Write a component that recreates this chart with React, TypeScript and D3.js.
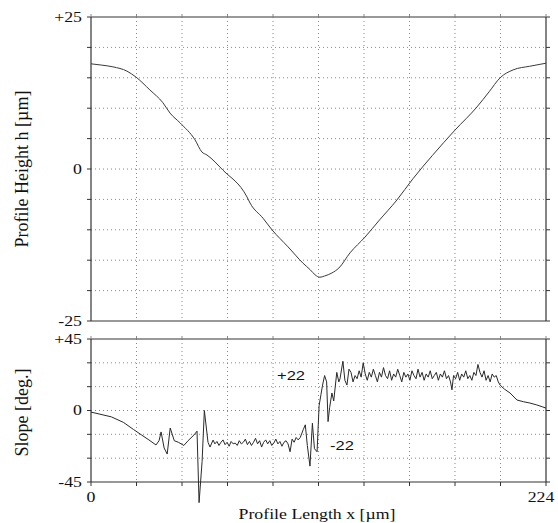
import React from "react";
import * as d3 from "d3";

// Profile height (top panel): [x µm, h µm]
const heightX = [0, 5, 10.8, 17.7, 22.2, 29, 35.4, 38.9, 43.8, 51.2, 54.6, 57.1, 65, 76.8, 78.3, 84.7, 89.1, 97, 104.4, 108, 110.3, 112.7, 115, 118.6, 122, 127.5, 134.9, 142, 150.6, 158.5, 168, 179.2, 190, 196, 201.4, 207.8, 216, 224];
const heightH = [17.3, 17.1, 16.8, 16.1, 15.1, 13.0, 10.9, 9.2, 7.6, 4.8, 2.8, 2.3, -0.2, -4.6, -5.6, -8.1, -10.0, -12.8, -15.5, -16.6, -17.4, -17.8, -17.6, -17.1, -16.3, -13.8, -11.2, -8.4, -5.1, -1.6, 2.2, 6.4, 10.2, 12.7, 15.0, 16.3, 16.9, 17.4];

// Slope (bottom panel): [x µm, deg]
const slopeX = [
  0, 10, 16, 21, 25, 28.5, 32, 33.5, 34.5, 36, 37.5, 39, 41, 43, 45.7, 47.8, 50.7, 52.2, 53.2, 54.7, 55.8, 57.6, 58.6, 60.1,
  61, 62, 63, 64, 65, 66, 67, 68, 69, 70, 71, 72, 73, 74, 75, 76, 77, 78, 79, 80, 81, 82, 83, 84, 85, 86, 87, 88, 89, 90,
  91, 92, 93, 94, 95, 96, 97, 98, 99, 100, 101, 102, 103,
  104.5, 105.5, 106.5, 107.8, 109, 110, 111.3, 112.3, 113.2, 114, 115, 116, 116.7, 117.5, 118.6, 119.5, 121, 122, 122.6, 124, 125, 126, 127, 128, 129, 130, 131,
  132, 133, 134, 135, 136, 137, 138, 139, 140, 141, 142, 143, 144, 145, 146, 147, 148, 149, 150, 151, 152, 153, 154, 155, 156, 157, 158, 159, 160,
  161, 162, 163, 164, 165, 166, 167, 168, 169, 170, 171, 172, 173, 174, 175, 176, 177, 177.7, 178.5, 179.5, 180.5, 181.5, 182.5, 183.5, 184.5, 185.5,
  186.5, 187.5, 188.5, 189.5, 190.5, 191.5, 192.5, 193.5, 194.5, 195.5, 196.5, 197.5, 198.5, 199.5, 200.5,
  201.4, 203.5, 206.3, 209.7, 213, 216.1, 219.5, 222.5, 224
];
const slopeDeg = [
  -1, -4, -7.5, -12, -15.5, -18.5, -21.7, -19, -13.5, -23.6, -27.4, -11, -19, -20, -22, -19, -15.4, -13, -58, -32, 0, -20, -23, -18.6,
  -21, -19.5, -22, -20, -18.5, -21.5, -20, -22.5, -19.5, -21, -20.5, -22, -19, -21, -20, -18, -21.5, -19.5, -22, -20, -17.5, -21, -19, -23, -20, -18.5, -21, -19, -22, -20.5,
  -18, -21, -19.5, -22.5, -20, -19, -21, -26, -18, -20, -17, -18.5, -17,
  -12, -9, -22, -35, -8, -24, -26, 3, 10, 16, 22, 18, -7, 2, 11, 6, 24, 18, 20, 31, 19, 16, 26, 24, 18, 22, 20,
  25, 21, 30, 23, 19, 24, 21, 26, 22, 18, 24, 21, 27, 22, 20, 25, 19, 23, 21, 26, 22, 18, 24, 21, 23, 19, 25, 22, 20,
  26, 21, 24, 19, 23, 21, 25, 20, 22, 24, 19, 23, 21, 25, 20, 22, 18, 13, 22, 20, 24, 19, 23, 21, 25, 20,
  22, 19, 24, 22, 29, 24, 21, 25, 19, 22, 18, 23, 21, 22, 18,
  16, 13.5, 11, 6.6, 5.5, 4.7, 3.5, 2.2, 1.5
];

const xTickLabels = ["0", "224"];
const topTickLabels = ["+25", "0", "-25"];
const topTickValues = [25, 0, -25];
const botTickLabels = ["+45", "0", "-45"];
const botTickValues = [45, 0, -45];
const xTitle = "Profile Length x [\u00b5m]";
const yTitleTop = "Profile Height h [\u00b5m]";
const yTitleBot = "Slope [deg.]";

const serif = "'Liberation Serif', 'Times New Roman', serif";
const sans = "'Liberation Sans', Arial, sans-serif";
const SX = 1.27;

export default function App() {
  const L = 91, R = 546;
  const x = d3.scaleLinear().domain([0, 224]).range([L, R]);
  const yT = d3.scaleLinear().domain([-25, 25]).range([321, 17]);
  const yB = d3.scaleLinear().domain([-45, 45]).range([482, 339]);

  const xGrid = d3.range(0, 11).map((i) => i * 22.4);
  const yTGrid = d3.range(-25, 26, 5);
  const yBGrid = d3.range(-45, 46, 15);

  const topLine = d3.line<number>().x((_, i) => x(heightX[i])).y((d) => yT(d)).curve(d3.curveMonotoneX)(heightH) || "";
  const botLine = d3.line<number>().x((_, i) => x(slopeX[i])).y((d) => yB(d))(slopeDeg) || "";

  const grid = "#8a8a8a";
  const ax = "#333";

  const stretched = (key: string, tx: number, ty: number, s: string, anchor: string, font: string, size: number) => (
    <text key={key} transform={`translate(${tx},${ty}) scale(${SX},1)`} textAnchor={anchor} fontFamily={font} fontSize={size} fill="#111">{s}</text>
  );

  const panel = (y: d3.ScaleLinear<number, number>, yGrid: number[], top: number, bot: number, isBottom: boolean) => (
    <g>
      {xGrid.slice(1, -1).map((v) => (
        <line key={"gx" + v} x1={x(v)} x2={x(v)} y1={top} y2={bot} stroke={grid} strokeWidth={1} strokeDasharray="1,3" />
      ))}
      {yGrid.slice(1, -1).map((v) => (
        <line key={"gy" + v} x1={L} x2={R} y1={y(v)} y2={y(v)} stroke={grid} strokeWidth={1} strokeDasharray="1,3" />
      ))}
      {yGrid.map((v) => (
        <g key={"t" + v}>
          <line x1={L - 4} x2={L} y1={y(v)} y2={y(v)} stroke={ax} />
          <line x1={R} x2={R + 4} y1={y(v)} y2={y(v)} stroke={ax} />
        </g>
      ))}
      {xGrid.map((v) => (
        <g key={"xt" + v}>
          <line x1={x(v)} x2={x(v)} y1={top - 3} y2={top} stroke={grid} />
          {isBottom ? <line x1={x(v)} x2={x(v)} y1={bot} y2={bot + 4} stroke={ax} /> : null}
        </g>
      ))}
      <line x1={L} x2={R} y1={top} y2={top} stroke="#777" strokeWidth={1.5} />
      <line x1={L} x2={R} y1={bot} y2={bot} stroke={isBottom ? ax : "#777"} strokeWidth={isBottom ? 1.2 : 1.5} />
      <line x1={L} x2={L} y1={top} y2={bot} stroke={ax} strokeWidth={1.2} />
      <line x1={R} x2={R} y1={top} y2={bot} stroke={ax} strokeWidth={1.2} />
    </g>
  );

  return (
    <svg width={558} height={523} style={{ position: "absolute", left: 0, top: 0, background: "#fff" }}>
      <rect width={558} height={523} fill="#fff" />
      {panel(yT, yTGrid, 17, 321, false)}
      {panel(yB, yBGrid, 339, 482, true)}

      <path d={topLine} fill="none" stroke="#3a3a3a" strokeWidth={1} />
      <path d={botLine} fill="none" stroke="#2a2a2a" strokeWidth={1} strokeLinejoin="round" />

      {topTickValues.map((v, i) => stretched("tl" + i, 82, yT(v) + 4.5, topTickLabels[i], "end", serif, 14))}
      {botTickValues.map((v, i) => stretched("bl" + i, 82, yB(v) + 4.5, botTickLabels[i], "end", serif, 14))}
      {stretched("x0", x(0), 502, xTickLabels[0], "middle", serif, 14)}
      {stretched("x1", x(224) - 5, 502, xTickLabels[1], "middle", serif, 14)}
      {stretched("xt", 317, 519, xTitle, "middle", serif, 14)}

      {stretched("a1", x(91.6), yB(22) + 4.5, "+22", "start", sans, 13)}
      {stretched("a2", x(117.7), yB(-22) + 4.5, "-22", "start", sans, 13)}

      <text transform={`translate(28,${yT(0)}) rotate(-90)`} textAnchor="middle" fontFamily={serif} fontSize={18} fill="#111">{yTitleTop}</text>
      <text transform={`translate(28,${yB(0) + 2}) rotate(-90)`} textAnchor="middle" fontFamily={serif} fontSize={18} fill="#111">{yTitleBot}</text>
    </svg>
  );
}
